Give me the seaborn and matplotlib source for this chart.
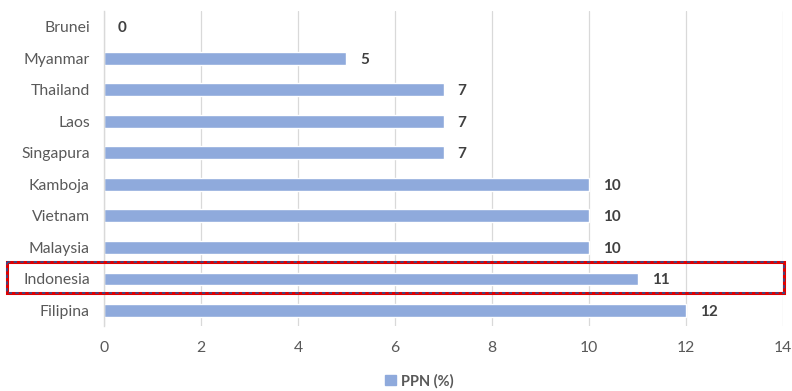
import matplotlib
matplotlib.use("Agg")
import matplotlib.pyplot as plt
import seaborn as sns
import pandas as pd
from matplotlib.patches import Rectangle

countries = ["Brunei", "Myanmar", "Thailand", "Laos", "Singapura", "Kamboja",
             "Vietnam", "Malaysia", "Indonesia", "Filipina"]
ppn = [0, 5, 7, 7, 7, 10, 10, 10, 11, 12]
xticks = [0, 2, 4, 6, 8, 10, 12, 14]

df = pd.DataFrame({"Negara": countries, "PPN (%)": ppn})

sns.set_theme(style="white")
plt.rcParams["font.family"] = ["Lato", "DejaVu Sans"]

fig = plt.figure(figsize=(7.92, 3.91), dpi=100)
ax = fig.add_axes([0.131, 0.166, 0.858, 0.806])

bar_color = "#8FAADC"
sns.barplot(data=df, y="Negara", x="PPN (%)", orient="h", color=bar_color,
            width=0.4, ax=ax, saturation=1, label="PPN (%)", legend=False)

ax.set_xlim(0, 14)
ax.set_xticks(xticks)
ax.set_xticklabels([str(t) for t in xticks])
ax.set_xlabel("")
ax.set_ylabel("")
ax.set_ylim(len(countries) - 0.5, -0.5)
ax.grid(axis="x", color="#D9D9D9", linewidth=0.9)
ax.set_axisbelow(True)
for s in ["top", "right", "bottom"]:
    ax.spines[s].set_visible(False)
ax.spines["left"].set_color("#D9D9D9")
ax.spines["left"].set_linewidth(1.0)
ax.tick_params(axis="both", length=0, labelsize=11.3, labelcolor="#595959")
ax.tick_params(axis="x", pad=11)
ax.tick_params(axis="y", pad=10)

for i, v in enumerate(ppn):
    ax.annotate(str(v), xy=(v, i), xytext=(10, -1), textcoords="offset points",
                va="center", ha="left", fontsize=11, fontweight="bold",
                color="#404040")

# highlight Indonesia row
idx = countries.index("Indonesia")
rect = Rectangle((-1.99, idx - 0.52), 16.01, 0.98, transform=ax.transData,
                 fill=False, edgecolor="#E00000", linewidth=2.2, clip_on=False, zorder=5)
ax.add_patch(rect)
rect2 = Rectangle((-1.99, idx - 0.52), 16.01, 0.98, transform=ax.transData,
                  fill=False, edgecolor="#2F4F8F", linewidth=1.2, linestyle=(0, (2, 2)),
                  clip_on=False, zorder=6)
ax.add_patch(rect2)

handle = Rectangle((0, 0), 1, 1, color=bar_color)
fig.legend([handle], ["PPN (%)"], loc="center", bbox_to_anchor=(0.53, 0.025),
           frameon=False, prop={"size": 10.5, "weight": "bold"},
           handlelength=0.7, handleheight=0.7,
           handletextpad=0.4, labelcolor="#595959")

fig.savefig("out.png", dpi=100)
